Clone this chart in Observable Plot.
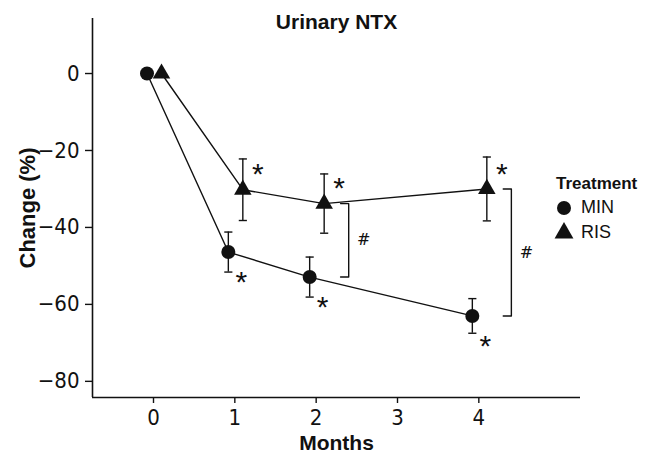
<!DOCTYPE html>
<html>
<head>
<meta charset="utf-8">
<script src="https://cdn.jsdelivr.net/npm/d3@7"></script>
<script src="https://cdn.jsdelivr.net/npm/@observablehq/plot@0.6"></script>
<style>
  html, body { margin: 0; padding: 0; background: #fff; }
  #wrap { position: relative; width: 652px; height: 454px; }
  #wrap > svg { position: absolute; left: 0; top: 0; }
  #legend { position: absolute; left: 556px; top: 174px; font-family: "Liberation Sans", Arial, sans-serif; color: #111; }
  #legend .ttl { font-weight: bold; font-size: 17px; margin-bottom: 3px; }
  #legend .lg-swatch { margin-bottom: 3px !important; }
</style>
</head>
<body>
<div id="wrap"><div id="legend"><div class="ttl">Treatment</div></div></div>
<script>
const months   = [0, 1, 2, 4];
const minMean  = [0, -46.4, -52.9, -63.0];
const minErr   = [0, 5.2, 5.2, 4.5];
const risMean  = [0, -30.2, -33.8, -30.0];
const risErr   = [0, 8.0, 7.7, 8.3];
const starMonths = [1, 2, 4];
const hashMonths = [2, 4];
const xTicks = [0, 1, 2, 3, 4];
const yTicks = [0, -20, -40, -60, -80];
const xDomain = [-0.75, 5.25];
const yDomain = [-84.2, 14.3];
const series = ["MIN", "RIS"];

const minData = months.map((m, i) => ({month: m, mean: minMean[i], err: minErr[i]}));
const risData = months.map((m, i) => ({month: m, mean: risMean[i], err: risErr[i]}));
const minBars = minData.filter(d => d.err > 0);
const risBars = risData.filter(d => d.err > 0);
const minStars = minData.filter(d => starMonths.includes(d.month));
const risStars = risData.filter(d => starMonths.includes(d.month));
const brackets = hashMonths.map(m => ({month: m, ris: risMean[months.indexOf(m)], min: minMean[months.indexOf(m)]}));
const bracketPts = brackets.flatMap(b => [
  {g: b.month, x: b.month + 0.3, y: b.ris},
  {g: b.month, x: b.month + 0.4, y: b.ris},
  {g: b.month, x: b.month + 0.4, y: b.min},
  {g: b.month, x: b.month + 0.3, y: b.min}
]);

const font = "'Liberation Sans', Arial, sans-serif";
const narrow = "'Liberation Sans Narrow', 'DejaVu Sans Condensed', 'Roboto Condensed', sans-serif";
const dMin = -6.5, dRis = 8;
const ink = "#111";

function errMarks(data, dx) {
  return [
    Plot.ruleX(data, {x: "month", y1: d => d.mean - d.err, y2: d => d.mean + d.err, dx, stroke: ink, strokeWidth: 1.4}),
    Plot.link(data, {x1: d => d.month - 0.05, x2: d => d.month + 0.05, y1: d => d.mean + d.err, y2: d => d.mean + d.err, dx, stroke: ink, strokeWidth: 1.4}),
    Plot.link(data, {x1: d => d.month - 0.05, x2: d => d.month + 0.05, y1: d => d.mean - d.err, y2: d => d.mean - d.err, dx, stroke: ink, strokeWidth: 1.4})
  ];
}

const chart = Plot.plot({
  width: 652,
  height: 454,
  marginTop: 18,
  marginRight: 72,
  marginBottom: 57,
  marginLeft: 92,
  style: {fontFamily: font, color: ink, background: "transparent"},
  x: {domain: xDomain},
  y: {domain: yDomain},
  marks: [
    Plot.axisX({ticks: xTicks, tickFormat: "d", tickSize: 6, tickPadding: 6, fontSize: 22, fontFamily: narrow, label: null, stroke: ink, strokeWidth: 1.4}),
    Plot.axisY({ticks: yTicks, tickSize: 7, tickPadding: 6, fontSize: 22, fontFamily: narrow, label: null, stroke: ink, strokeWidth: 1.4}),
    Plot.ruleX(xDomain.slice(0, 1), {stroke: ink, strokeWidth: 1.6}),
    Plot.ruleY(yDomain.slice(0, 1), {stroke: ink, strokeWidth: 1.6}),
    Plot.line(minData, {x: "month", y: "mean", dx: dMin, stroke: ink, strokeWidth: 1.4}),
    Plot.line(risData, {x: "month", y: "mean", dx: dRis, stroke: ink, strokeWidth: 1.4}),
    ...errMarks(minBars, dMin),
    ...errMarks(risBars, dRis),
    Plot.dot(minData, {x: "month", y: "mean", dx: dMin, r: 7, fill: ink, stroke: null}),
    Plot.dot(risData, {x: "month", y: "mean", dx: dRis, r: 6.5, symbol: "triangle", fill: ink, stroke: null}),
    Plot.text(risStars, {x: "month", y: "mean", text: () => "*", dx: dRis + 15, dy: -15, fontSize: 30, fontFamily: font}),
    Plot.text(minStars, {x: "month", y: "mean", text: () => "*", dx: dMin + 13, dy: 30, fontSize: 30, fontFamily: font}),
    Plot.line(bracketPts, {x: "x", y: "y", z: "g", stroke: ink, strokeWidth: 1.4}),
    Plot.text(brackets, {x: d => d.month + 0.4, y: d => (d.ris + d.min) / 2, text: () => "#", dx: 15, fontSize: 16, fontFamily: "'DejaVu Serif', serif"}),
    Plot.text(["Urinary NTX"], {frameAnchor: "top", lineAnchor: "middle", dy: 4, fontWeight: "bold", fontSize: 21, fontFamily: font}),
    Plot.text(["Months"], {frameAnchor: "bottom", lineAnchor: "middle", dy: 46, fontWeight: "bold", fontSize: 21, fontFamily: font}),
    Plot.text(["Change (%)"], {frameAnchor: "left", dx: -65, rotate: -90, textAnchor: "middle", fontWeight: "bold", fontSize: 22, fontFamily: font})
  ]
});

const wrap = document.getElementById("wrap");
wrap.insertBefore(chart, wrap.firstChild);

const leg = Plot.legend({
  symbol: {domain: series, range: ["circle", "triangle"]},
  fill: ink,
  r: 7,
  swatchSize: 16,
  columns: 1,
  className: "lg",
  style: {fontFamily: font, fontSize: "18px", color: ink}
});
document.getElementById("legend").appendChild(leg);
</script>
</body>
</html>
